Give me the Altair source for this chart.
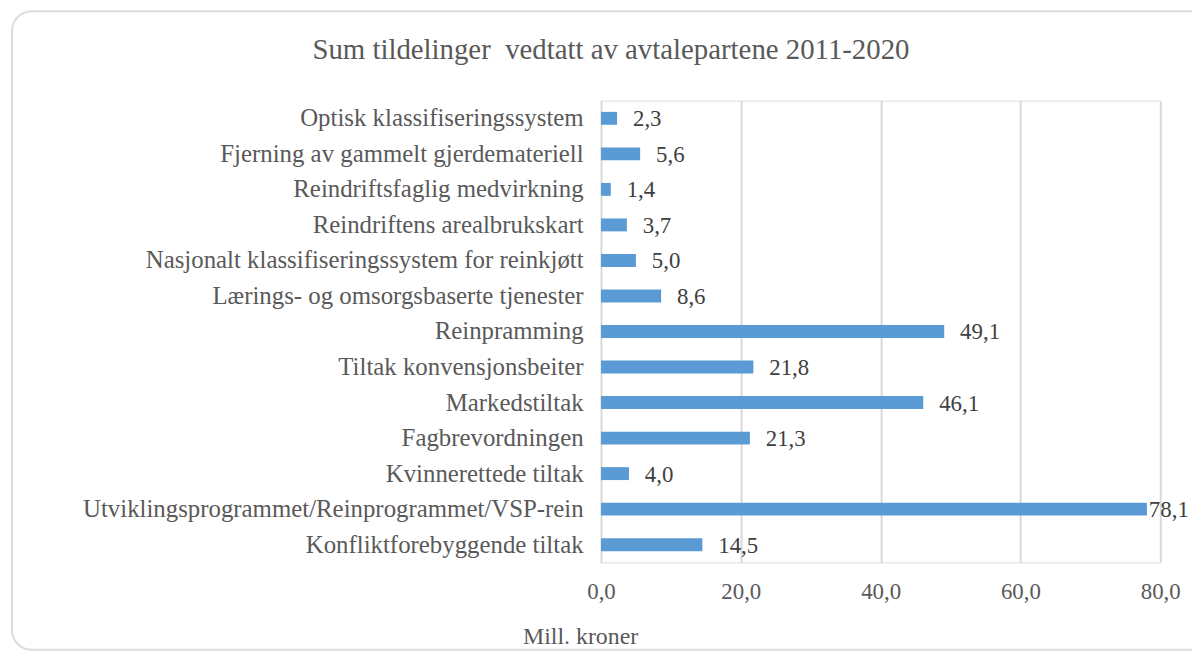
import altair as alt
import pandas as pd

categories = [
    "Optisk klassifiseringssystem",
    "Fjerning av gammelt gjerdemateriell",
    "Reindriftsfaglig medvirkning",
    "Reindriftens arealbrukskart",
    "Nasjonalt klassifiseringssystem for reinkjøtt",
    "Lærings- og omsorgsbaserte tjenester",
    "Reinpramming\u00a0",
    "Tiltak konvensjonsbeiter",
    "Markedstiltak",
    "Fagbrevordningen",
    "Kvinnerettede tiltak",
    "Utviklingsprogrammet/Reinprogrammet/VSP-rein",
    "Konfliktforebyggende tiltak",
]
values = [2.3, 5.6, 1.4, 3.7, 5.0, 8.6, 49.1, 21.8, 46.1, 21.3, 4.0, 78.1, 14.5]
x_ticks = [0, 20, 40, 60, 80]
title_text = "Sum tildelinger\u00a0 vedtatt av avtalepartene 2011-2020"
x_title = "Mill. kroner"

FONT = "Liberation Serif"
TXT = "#595959"

df = pd.DataFrame({"kategori": categories, "verdi": values})

base = alt.Chart(df).transform_calculate(
    lbl="replace(format(datum.verdi, '.1f'), '.', ',')",
    # the longest bar's label sits right against the bar end, as in the source
    lx="datum.verdi > 70 ? datum.verdi - 2 : datum.verdi",
)

y_enc = alt.Y(
    "kategori:N",
    sort=categories,
    scale=alt.Scale(paddingInner=0, paddingOuter=0),
    axis=alt.Axis(
        title=None,
        labelFont=FONT,
        labelFontSize=25,
        labelColor=TXT,
        labelPadding=18,
        labelLimit=0,
        ticks=False,
        domain=False,
    ),
)
x_enc = alt.X(
    "verdi:Q",
    scale=alt.Scale(domain=[0, 80], nice=False),
    axis=alt.Axis(
        values=x_ticks,
        labelExpr="replace(format(datum.value, '.1f'), '.', ',')",
        labelFont=FONT,
        labelFontSize=23,
        labelColor=TXT,
        labelPadding=18,
        labelFlush=False,
        ticks=False,
        domain=False,
        grid=True,
        gridColor="#d9d9d9",
        gridWidth=2,
        title=x_title,
        titleFont=FONT,
        titleFontSize=24,
        titleFontWeight="normal",
        titleColor=TXT,
        titleAlign="left",
        titleBaseline="alphabetic",
        titleX=-79,
        titleY=82,
    ),
)

bars = base.mark_bar(color="#5B9BD5", size=13).encode(y=y_enc, x=x_enc)

labels = base.mark_text(
    align="left", baseline="middle", dx=16, dy=1, font=FONT, fontSize=23, color="#404040"
).encode(y=alt.Y("kategori:N", sort=categories), x="lx:Q", text="lbl:N")

frame = alt.Chart(pd.DataFrame({"a": [0]})).mark_rect(
    fill="white", fillOpacity=0, stroke="#dcdcdc", strokeWidth=2, cornerRadius=20
).encode(
    x=alt.value(-593), x2=alt.value(680), y=alt.value(-90), y2=alt.value(553)
)

title = alt.Chart(pd.DataFrame({"t": [title_text]})).mark_text(
    font=FONT, fontSize=29, color=TXT, align="center", baseline="middle"
).encode(text="t:N", x=alt.value(10), y=alt.value(-51))

chart = alt.layer(frame, bars, labels, title).properties(
    width=563,
    height=465,
    autosize=alt.AutoSizeParams(type="none"),
    padding={"left": 597, "top": 91, "right": 32, "bottom": 90},
).configure_view(stroke=None).configure(background="white")

chart.save("out.html", embed_options={"renderer": "svg", "actions": False})
